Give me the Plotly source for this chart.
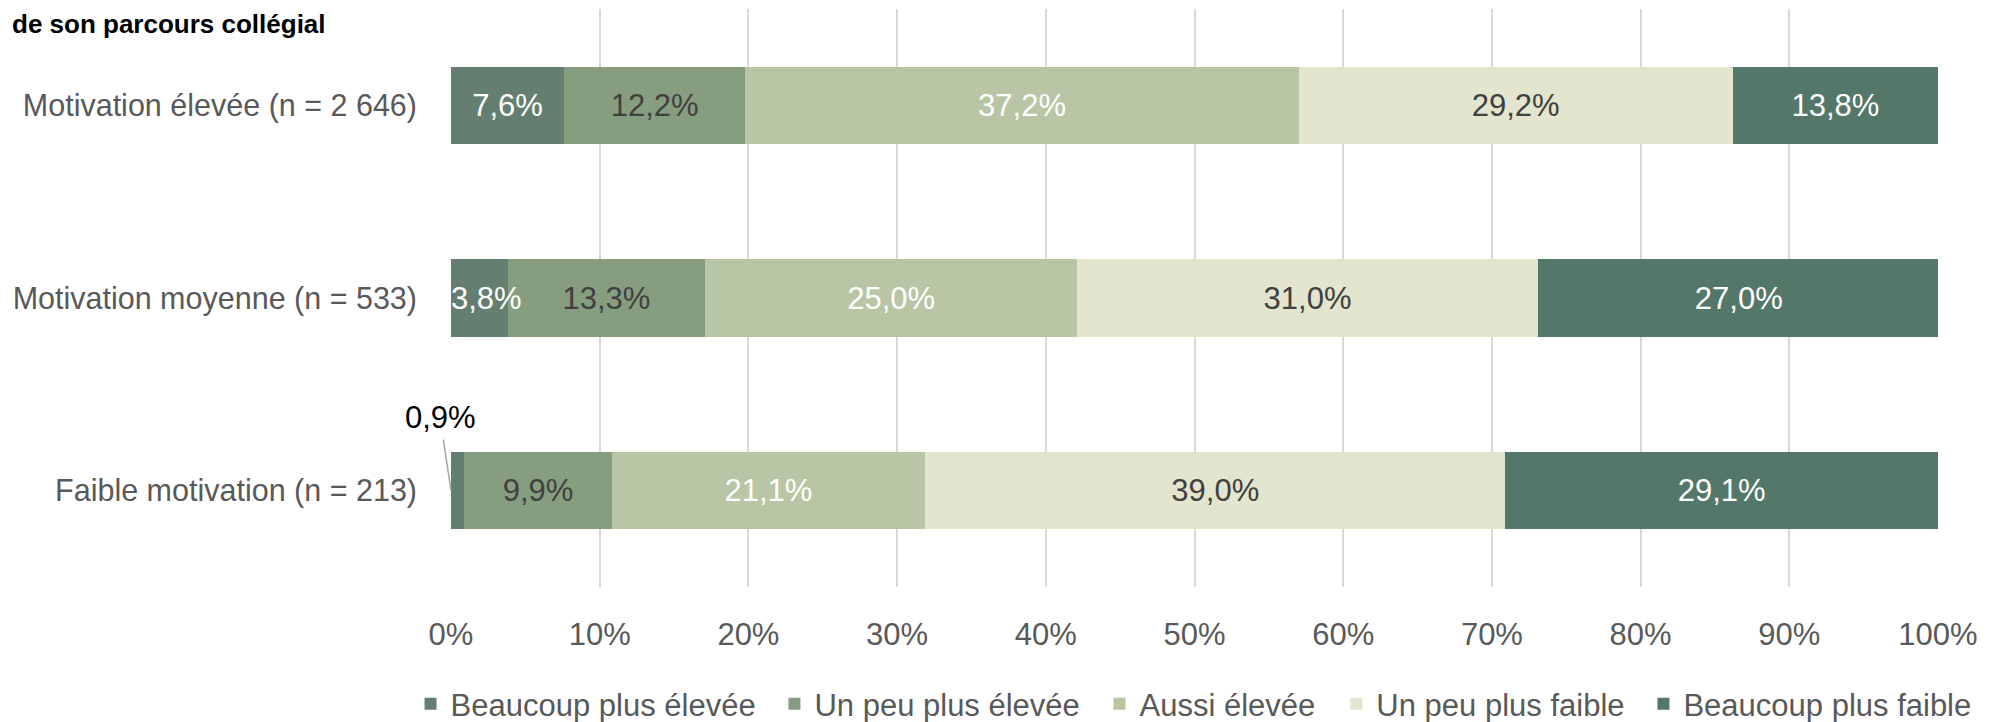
import plotly.graph_objects as go

categories = ["Motivation élevée (n = 2 646)", "Motivation moyenne (n = 533)", "Faible motivation (n = 213)"]
series_names = ["Beaucoup plus élevée", "Un peu plus élevée", "Aussi élevée", "Un peu plus faible", "Beaucoup plus faible"]
beaucoup_plus_elevee = [7.6, 3.8, 0.9]
un_peu_plus_elevee = [12.2, 13.3, 9.9]
aussi_elevee = [37.2, 25.0, 21.1]
un_peu_plus_faible = [29.2, 31.0, 39.0]
beaucoup_plus_faible = [13.8, 27.0, 29.1]
tick_vals = [0, 10, 20, 30, 40, 50, 60, 70, 80, 90, 100]
tick_text = ["0%", "10%", "20%", "30%", "40%", "50%", "60%", "70%", "80%", "90%", "100%"]

series_values = [beaucoup_plus_elevee, un_peu_plus_elevee, aussi_elevee, un_peu_plus_faible, beaucoup_plus_faible]
colors = ["#647f71", "#879d80", "#b8c6a6", "#e3e5ce", "#537768"]
text_colors = ["#ffffff", "#404040", "#ffffff", "#404040", "#ffffff"]
legend_ids = ["legend", "legend2", "legend3", "legend4", "legend5"]
legend_x = [-0.0272, 0.2175, 0.4361, 0.5954, 0.8019]

FONT = "Liberation Sans, Arial, sans-serif"
FS = 31

def fmt(v):
    return f"{v:.1f}".replace(".", ",") + "%"

fig = go.Figure()
starts = [0.0] * len(categories)
for name, vals, col, tcol, lid in zip(series_names, series_values, colors, text_colors, legend_ids):
    texts = [fmt(v) if v >= 5 else "" for v in vals]
    fig.add_trace(go.Bar(
        y=categories, x=vals, name=name, orientation="h", legend=lid,
        marker=dict(color=col, line=dict(width=0)),
        text=texts, textposition="inside", insidetextanchor="middle",
        constraintext="none", textangle=0,
        textfont=dict(family=FONT, size=FS, color=tcol),
        width=0.4, hoverinfo="skip",
    ))
    # narrow segments: label anchored at segment start (overflowing to the right)
    for i, v in enumerate(vals):
        if 2 <= v < 5:
            fig.add_annotation(x=starts[i], y=categories[i], xref="x", yref="y",
                               xanchor="left", showarrow=False, text=fmt(v), xshift=-2,
                               font=dict(family=FONT, size=FS, color=tcol))
        starts[i] += v

# very small value: label outside with leader line
fig.add_annotation(
    x=0, y=categories[2], xref="x", yref="y",
    text=fmt(beaucoup_plus_elevee[2]), showarrow=True, arrowhead=0,
    arrowcolor="#a6a6a6", arrowwidth=1.5,
    ax=-11, ay=-73, xshift=0, startstandoff=3,
    font=dict(family=FONT, size=FS, color="#000000"),
)

fig.add_annotation(
    x=0, y=1.0, xref="paper", yref="paper", xanchor="left", yanchor="top",
    text="<b>de son parcours collégial</b>", showarrow=False, xshift=-441, yshift=2,
    font=dict(family=FONT, size=26, color="#000000"),
)

legend_layout = {}
for lid, lx in zip(legend_ids, legend_x):
    legend_layout[lid] = dict(orientation="h", x=lx, xanchor="left",
                              y=-0.2024, yanchor="middle",
                              font=dict(family=FONT, size=FS, color="#595959"),
                              itemwidth=30, bgcolor="rgba(0,0,0,0)")

fig.update_layout(
    barmode="stack",
    width=1989, height=714,
    margin=dict(l=443, r=59, t=1, b=135, autoexpand=False),
    plot_bgcolor="white", paper_bgcolor="white",
    font=dict(family=FONT, size=FS, color="#595959"),
    showlegend=True,
    xaxis=dict(range=[0, 100], tickvals=tick_vals, ticktext=tick_text,
               showgrid=True, gridcolor="#d9d9d9", gridwidth=2,
               zeroline=False, showline=False, ticks="", automargin=False,
               ticklabelstandoff=26,
               tickfont=dict(family=FONT, size=FS, color="#595959"), fixedrange=True),
    yaxis=dict(autorange="reversed", showgrid=False, showline=False, ticks="",
               ticklabelstandoff=33, automargin=False,
               tickfont=dict(family=FONT, size=30.5, color="#595959")),
    **legend_layout,
)

fig.write_html("out.html")
